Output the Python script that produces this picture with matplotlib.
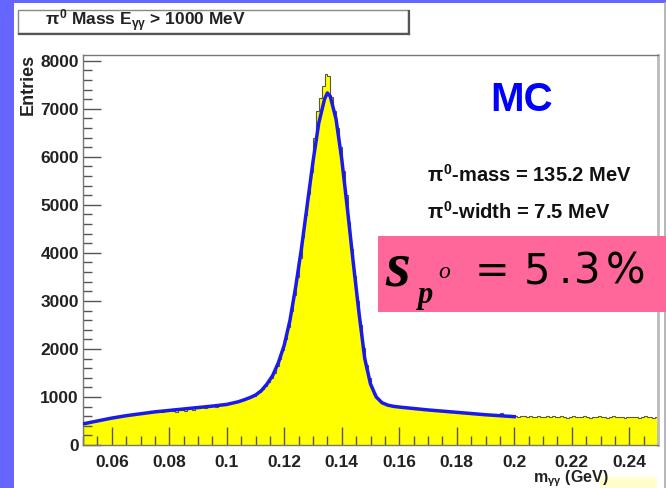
import matplotlib
matplotlib.use('Agg')
import matplotlib.pyplot as plt
from matplotlib.patches import Rectangle
from matplotlib.lines import Line2D
from matplotlib.ticker import MultipleLocator, FuncFormatter
import numpy as np

plt.rcParams['mathtext.fontset'] = 'custom'
plt.rcParams['mathtext.rm'] = 'Liberation Sans:bold'
plt.rcParams['mathtext.it'] = 'Liberation Sans:bold'
plt.rcParams['mathtext.bf'] = 'Liberation Sans:bold'

# ---------------- data ----------------
bin_lo, bin_hi, n_bins = 0.05, 0.25, 200
hist_counts = [
    445, 450, 478, 490, 505, 520, 540, 548, 560, 552,      # 0.050-0.060
    565, 580, 590, 598, 612, 605, 625, 630, 640, 648,      # 0.060-0.070
    650, 668, 660, 680, 690, 685, 700, 695, 712, 705,      # 0.070-0.080
    720, 700, 690, 735, 728, 710, 742, 760, 735, 770,      # 0.080-0.090
    775, 790, 770, 800, 805, 815, 800, 830, 840, 835,      # 0.090-0.100
    855, 870, 885, 905, 915, 930, 950, 975, 1000, 1030,    # 0.100-0.110
    1060, 1100, 1160, 1230, 1310, 1400, 1500, 1640, 1800, 1980,  # 0.110-0.120
    2200, 2450, 2780, 3130, 3500, 3900, 4330, 4780, 5230, 5680,  # 0.120-0.130
    6400, 6960, 7220, 7470, 7720, 7680, 7250, 6950, 6600, 6200,  # 0.130-0.140
    5700, 5200, 4650, 4080, 3520, 3000, 2500, 2030, 1660, 1400,  # 0.140-0.150
    1200, 1070, 980, 920, 875, 850, 830, 815, 800, 795,    # 0.150-0.160
    795, 770, 790, 760, 775, 745, 770, 755, 735, 750,      # 0.160-0.170
    730, 740, 715, 725, 700, 720, 705, 690, 700, 685,      # 0.170-0.180
    690, 670, 680, 660, 690, 650, 665, 640, 655, 635,      # 0.180-0.190
    640, 620, 630, 615, 625, 660, 610, 600, 615, 595,      # 0.190-0.200
    600, 590, 605, 595, 585, 600, 590, 580, 600, 590,      # 0.200-0.210
    585, 600, 575, 595, 590, 580, 600, 585, 570, 590,      # 0.210-0.220
    595, 580, 590, 575, 600, 585, 570, 590, 580, 595,      # 0.220-0.230
    580, 590, 570, 585, 595, 575, 590, 580, 565, 585,      # 0.230-0.240
    590, 575, 585, 560, 580, 595, 575, 585, 570, 590,      # 0.240-0.250
]

fit_x = [0.050, 0.055, 0.060, 0.065, 0.070, 0.075, 0.080, 0.085, 0.090, 0.095,
         0.100, 0.104, 0.106, 0.108, 0.110, 0.112, 0.114, 0.116, 0.118, 0.120,
         0.122, 0.124, 0.126, 0.128, 0.130, 0.132, 0.134, 0.135, 0.136, 0.138,
         0.140, 0.142, 0.144, 0.146, 0.148, 0.150, 0.152, 0.154, 0.156, 0.158,
         0.160, 0.165, 0.170, 0.175, 0.180, 0.185, 0.190, 0.195, 0.200]
fit_y = [440, 500, 560, 610, 650, 690, 720, 750, 780, 810,
         845, 900, 940, 985, 1040, 1130, 1270, 1450, 1720, 2080,
         2600, 3300, 4100, 5000, 5900, 6700, 7200, 7330, 7260, 6790,
         5950, 4900, 3800, 2750, 1800, 1270, 1000, 880, 830, 805,
         790, 760, 730, 705, 680, 655, 630, 610, 590]

title_text = r'$\pi^{0}$ Mass E$_{\gamma\gamma}$ > 1000 MeV'
x_label = r'm$_{\gamma\gamma}$ (GeV)'
y_label = 'Entries'
mc_text = 'MC'
mass_text = r'$\pi^{0}$-mass = 135.2 MeV'
width_text = r'$\pi^{0}$-width = 7.5 MeV'

# ---------------- figure ----------------
W, H = 666, 488
fig = plt.figure(figsize=(W / 100, H / 100), dpi=100)
fig.patch.set_facecolor('#6666FF')

def fx(x):
    return x / W

def fy(y):
    return 1 - y / H

# white panel
fig.add_artist(Rectangle((fx(14), 0), fx(666) - fx(14), fy(3), transform=fig.transFigure,
                         facecolor='white', edgecolor='none', zorder=-2))
fig.add_artist(Line2D([fx(665), fx(665)], [0, fy(3)], transform=fig.transFigure,
                      color='#aaaaaa', lw=1.2, zorder=-1))

# title box
fig.add_artist(Rectangle((fx(18), fy(33)), fx(408) - fx(18), fy(10) - fy(33),
                         transform=fig.transFigure, facecolor='white',
                         edgecolor='#888888', lw=1.0, zorder=1))
fig.add_artist(Line2D([fx(19), fx(409)], [fy(34), fy(34)], transform=fig.transFigure,
                      color='#555555', lw=1.6, zorder=1))
fig.add_artist(Line2D([fx(409), fx(409)], [fy(11), fy(34)], transform=fig.transFigure,
                      color='#555555', lw=1.6, zorder=1))
fig.text(fx(45), fy(21), title_text, fontsize=12.5, fontweight='bold',
         family='Liberation Sans', ha='left', va='center', color='#222222')

# axes
ax = fig.add_axes([fx(83), fy(445), fx(658) - fx(83), fy(55) - fy(445)])
ax.set_facecolor('white')
edges = np.linspace(bin_lo, bin_hi, n_bins + 1)
ax.stairs(hist_counts, edges, fill=True, color='#FFFF00', zorder=1)
ax.stairs(hist_counts, edges, color='#5a5a30', lw=0.8, zorder=2)
ax.plot(fit_x, fit_y, color='#1a1aee', lw=2.5, zorder=3, solid_joinstyle='round')

ax.set_xlim(bin_lo, bin_hi)
ax.set_ylim(0, 8120)
ax.xaxis.set_major_locator(MultipleLocator(0.02))
ax.xaxis.set_minor_locator(MultipleLocator(0.005))
ax.yaxis.set_major_locator(MultipleLocator(1000))
ax.yaxis.set_minor_locator(MultipleLocator(200))
ax.xaxis.set_major_formatter(FuncFormatter(lambda v, p: f'{v:g}'))
ax.yaxis.set_major_formatter(FuncFormatter(lambda v, p: f'{v:.0f}'))
ax.tick_params(which='major', direction='in', length=13, width=1, color='#555555',
               top=False, right=False)
ax.tick_params(which='minor', direction='in', length=6.5, width=1, color='#555555',
               top=False, right=False)
ax.tick_params(axis='x', which='major', pad=7)
ax.tick_params(axis='y', which='major', pad=3)
for lab in ax.get_xticklabels() + ax.get_yticklabels():
    lab.set_fontfamily('Liberation Sans')
    lab.set_fontweight('bold')
    lab.set_fontsize(12.5)
    lab.set_color('#222222')

for s in ['left', 'bottom', 'top']:
    ax.spines[s].set_color('#777777')
    ax.spines[s].set_linewidth(1.0)
ax.spines['right'].set_color('#bbbbbb')
ax.spines['right'].set_linewidth(2.0)

fig.text(fx(28), fy(54), y_label, rotation=90, ha='center', va='top',
         fontsize=13, fontweight='bold', family='Liberation Sans', color='#222222')
fig.add_artist(Rectangle((fx(600), 0), fx(657) - fx(600), fy(477),
                         transform=fig.transFigure, facecolor='#FFFFCC',
                         edgecolor='none', zorder=0))
fig.text(fx(533), fy(479), x_label, ha='left', va='center', fontsize=11.5,
         fontweight='bold', family='Liberation Sans', color='#222222', zorder=2)

# annotations
fig.text(fx(522), fy(100), mc_text, ha='center', va='center', fontsize=29,
         fontweight='bold', family='Liberation Sans', color='#0000FF')
fig.text(fx(427), fy(175), mass_text, ha='left', va='center', fontsize=14.5,
         fontweight='bold', family='Liberation Sans', color='#111111')
fig.text(fx(427), fy(212), width_text, ha='left', va='center', fontsize=14.5,
         fontweight='bold', family='Liberation Sans', color='#111111')

# pink box
fig.add_artist(Rectangle((fx(378), fy(312)), fx(666) - fx(378), fy(236) - fy(312),
                         transform=fig.transFigure, facecolor='#FF6699',
                         edgecolor='none', zorder=5))
fig.text(fx(398), fy(286), 's', ha='center', va='baseline', fontsize=46,
         fontweight='bold', style='italic', family='Liberation Serif', color='black', zorder=6)
fig.text(fx(425), fy(303), 'p', ha='center', va='baseline', fontsize=22,
         fontweight='bold', style='italic', family='Liberation Serif', color='black', zorder=6)
fig.text(fx(444), fy(278), 'o', ha='center', va='baseline', fontsize=17,
         style='italic', family='Liberation Serif', color='black', zorder=6)
fig.text(fx(492), fy(283), '=', ha='center', va='baseline', fontsize=30,
         family='DejaVu Sans', color='black', zorder=6)
for ch, xc in zip(['5', '.', '3', '%'], [537, 565, 587, 626]):
    fig.text(fx(xc), fy(283), ch, ha='center', va='baseline', fontsize=30,
             family='DejaVu Sans', color='black', zorder=6)

fig.savefig('out.png', dpi=100, facecolor=fig.get_facecolor())
